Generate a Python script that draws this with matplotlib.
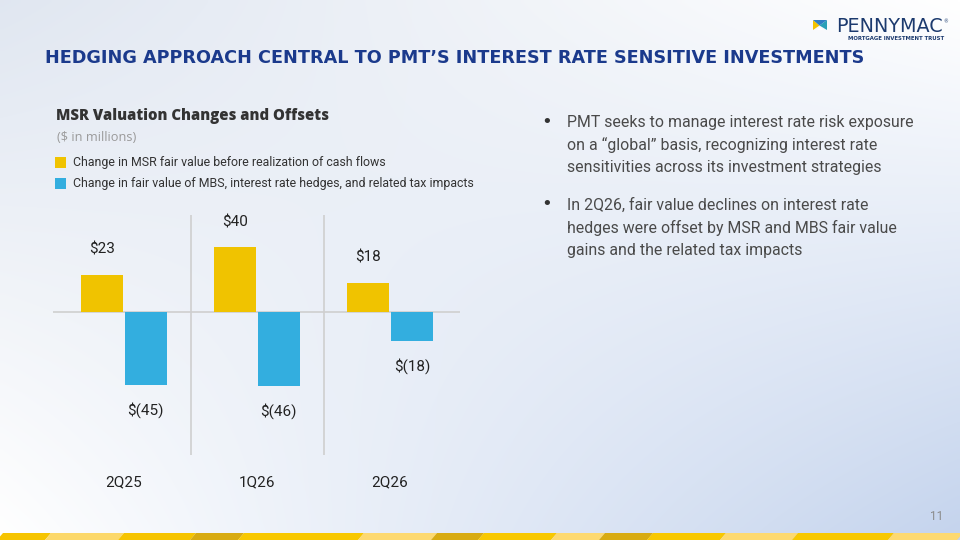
"""Recreate the PMT 'hedging approach' slide: MSR valuation changes vs. offsets."""

import matplotlib
matplotlib.use("Agg")
import matplotlib.pyplot as plt
from matplotlib.patches import Polygon, Rectangle
import numpy as np

# ---- data -----------------------------------------------------------------
quarters = ["2Q25", "1Q26", "2Q26"]
msr_change = [23, 40, 18]
hedge_change = [-45, -46, -18]
msr_labels = ["$23", "$40", "$18"]
hedge_labels = ["$(45)", "$(46)", "$(18)"]
series_names = [
    "Change in MSR fair value before realization of cash flows",
    "Change in fair value of MBS, interest rate hedges, and related tax impacts",
]
bullet_lines = [
    ["PMT seeks to manage interest rate risk exposure",
     "on a \u201cglobal\u201d basis, recognizing interest rate",
     "sensitivities across its investment strategies"],
    ["In 2Q26, fair value declines on interest rate",
     "hedges were offset by MSR and MBS fair value",
     "gains and the related tax impacts"],
]
title = "HEDGING APPROACH CENTRAL TO PMT\u2019S INTEREST RATE SENSITIVE INVESTMENTS"

YELLOW = "#f0c300"
BLUE = "#33aedf"
NAVY = "#1b3a8c"
W, H = 960, 540


def px(x, y):
    """pixel (from top-left) -> figure fraction"""
    return x / W, 1 - y / H


def fit_width(txt, target):
    """rescale a text so its rendered width is `target` pixels"""
    fig.canvas.draw()
    w = txt.get_window_extent(renderer=fig.canvas.get_renderer()).width
    txt.set_fontsize(txt.get_fontsize() * target / w)


fig = plt.figure(figsize=(9.6, 5.4), dpi=100)

# ---- background gradient --------------------------------------------------
bg = fig.add_axes([0, 0, 1, 1], zorder=-10)
gx, gy = np.meshgrid(np.linspace(0, 1, 200), np.linspace(0, 1, 120))
tl = np.array([0.88, 0.905, 0.945])
tr = np.array([1.0, 1.0, 1.0])
bl = np.array([1.0, 1.0, 1.0])
br = np.array([0.77, 0.83, 0.93])
img = ((1 - gx) * (1 - gy))[..., None] * tl + (gx * (1 - gy))[..., None] * tr \
    + ((1 - gx) * gy)[..., None] * bl + (gx * gy)[..., None] * br
bg.imshow(img, extent=[0, W, H, 0], aspect="auto", interpolation="bilinear")
bg.set_xlim(0, W)
bg.set_ylim(H, 0)
bg.axis("off")

# bottom strip of yellow parallelograms
edges = [0, 48, 121, 193, 241, 361, 434, 481, 554, 602, 650, 723, 795, 891, 960]
shades = ["#f6c400", "#fcd86a", "#f6c400", "#d8ab12", "#f8c800", "#fdd970",
          "#d8ab12", "#f8c800", "#fdd970", "#d8ab12", "#f8c800", "#fdd970",
          "#f8c800", "#fdd970"]
for i, c in enumerate(shades):
    x0, x1 = edges[i], edges[i + 1]
    bg.add_patch(Polygon([(x0 - 3, 540), (x0 + 3, 533), (x1 + 3, 533), (x1 - 3, 540)],
                         closed=True, color=c, lw=0))

# logo
bg.add_patch(Polygon([(813, 20), (819.5, 25.5), (813, 30)], color="#f3c300", lw=0))
bg.add_patch(Polygon([(827, 20), (819.5, 25.5), (827, 30)], color="#2aa0b8", lw=0))
bg.add_patch(Polygon([(813, 20), (827, 20), (819.5, 25.5)], color="#2f7ec4", lw=0))
bg.add_patch(Polygon([(817, 30), (820, 26.8), (823, 30)], color="white", lw=0))
logo = fig.text(*px(836, 26), "PENNYMAC", fontsize=13.5, color="#1c3a6e",
                family="DejaVu Sans", va="center", ha="left")
fit_width(logo, 107)
fig.text(*px(946, 22), "\u00ae", fontsize=3.5, color="#1c3a6e", va="center",
         ha="center")
sub = fig.text(*px(848, 38), "MORTGAGE INVESTMENT TRUST", fontsize=4.0,
               color="#1c3a6e", fontweight="bold", va="center", ha="left")
fit_width(sub, 96)

# ---- titles / text --------------------------------------------------------
t = fig.text(*px(45, 58), title, fontsize=13, fontweight="bold", color=NAVY,
             family="DejaVu Sans", va="center", ha="left")
fit_width(t, 813)

st = fig.text(*px(56, 116), "MSR Valuation Changes and Offsets", fontsize=10,
              fontweight="heavy", color="#333333", family="Open Sans", va="center")
fit_width(st, 273)
fig.text(*px(57, 137), "($ in millions)", fontsize=9.2, color="#9a9a9a",
         family="Open Sans", va="center")
for i, (name, col) in enumerate(zip(series_names, [YELLOW, BLUE])):
    yc = 162.5 + 21 * i
    bg.add_patch(Rectangle((55, yc - 5.5), 11, 11, color=col, lw=0))
    fig.text(*px(73, yc), name, fontsize=8.9, color="#333333", family="Roboto",
             va="center")

for b, lines in enumerate(bullet_lines):
    y0 = 122.7 + 82.5 * b
    fig.text(*px(547, y0 - 1), "\u2022", fontsize=13, color="#333333",
             family="DejaVu Sans", va="center", ha="center")
    for j, line in enumerate(lines):
        fig.text(*px(567, y0 + 22.6 * j), line, fontsize=11.4, color="#4a4a4a",
                 family="Roboto", va="center")

fig.text(*px(937, 516), "11", fontsize=8.5, color="#8a8a8a", family="Roboto",
         va="center", ha="center")

# ---- chart ---------------------------------------------------------------
ax = fig.add_axes([53 / W, (H - 455) / H, 407 / W, 240 / H])
ax.patch.set_alpha(0)
x = np.arange(len(quarters))
bw = 0.313
off = 0.164
ax.bar(x - off, msr_change, bw, color=YELLOW, zorder=3)
ax.bar(x + off, hedge_change, bw, color=BLUE, zorder=3)
ax.set_xlim(-0.534, 2.526)
ax.set_ylim(-88.3, 59.9)
ax.axhline(0, color="#cfcfcf", lw=1.2, zorder=2)
for sep in [0.5, 1.5]:
    ax.axvline(sep, color="#cfcfcf", lw=1.2, zorder=2)

for xi, v, lab in zip(x, msr_change, msr_labels):
    ax.annotate(lab, (xi - off, v), xytext=(0, 18), textcoords="offset points",
                ha="center", va="center", fontsize=11, family="Roboto", color="#222222")
for xi, v, lab in zip(x, hedge_change, hedge_labels):
    ax.annotate(lab, (xi + off, v), xytext=(0, -18), textcoords="offset points",
                ha="center", va="center", fontsize=11, family="Roboto", color="#222222")

ax.set_xticks(x)
ax.set_xticklabels(quarters, fontsize=11, family="Roboto", color="#222222")
ax.tick_params(axis="x", length=0, pad=15)
ax.set_yticks([])
for s in ax.spines.values():
    s.set_visible(False)

fig.savefig("out.png", dpi=100)
